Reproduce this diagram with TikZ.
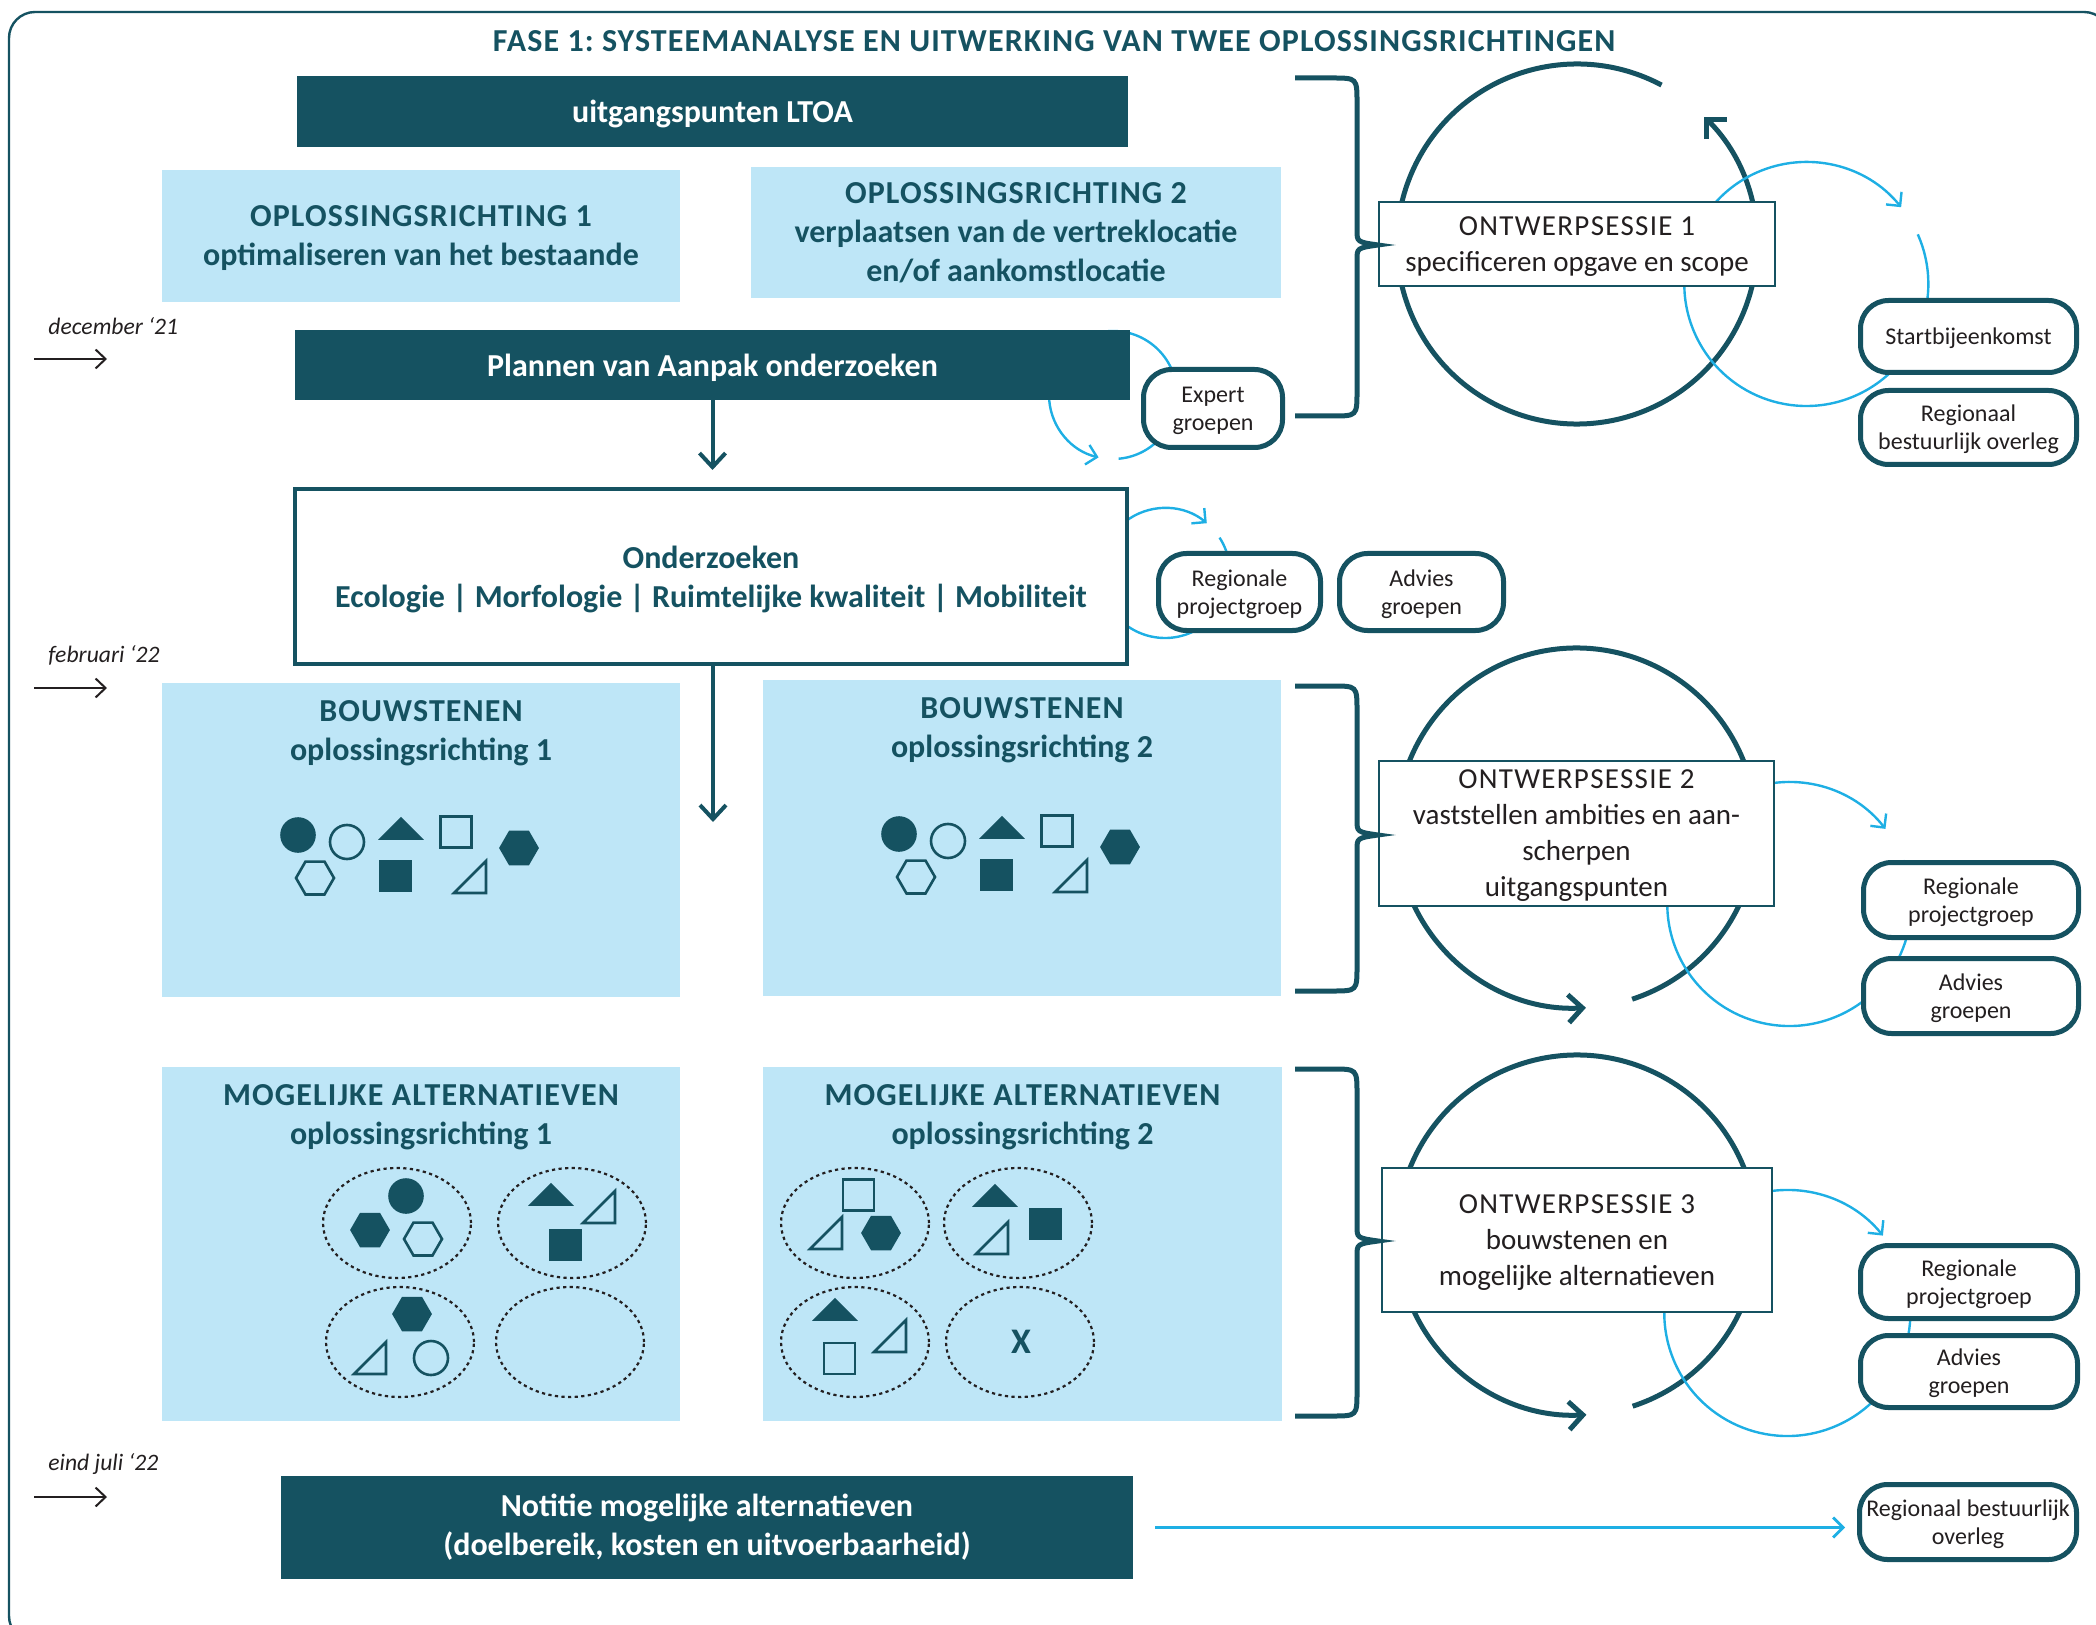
\documentclass[tikz,border=0pt]{standalone}
\usepackage{fontspec}
\setmainfont{Carlito}
\frenchspacing
\usetikzlibrary{positioning,arrows.meta,backgrounds}
\definecolor{petrol}{HTML}{155261}
\definecolor{ice}{HTML}{BEE6F7}
\definecolor{sky}{HTML}{1EAFE4}
\definecolor{ink}{HTML}{231F20}
\newcommand\titlefont{\fontsize{16}{20}\selectfont\bfseries}
\newcommand\headfont{\fontsize{16}{19.5}\selectfont\bfseries}
\newcommand\sessfont{\fontsize{14.5}{18}\selectfont}
\newcommand\grpfont{\fontsize{12}{14}\selectfont}
\newcommand\datefont{\fontsize{11.8}{14}\selectfont\itshape}
\newcommand\caps[2][3.5]{{\addfontfeature{LetterSpace=#1}#2}}
\begin{document}
\begin{tikzpicture}[x=0.5pt, y=-0.5pt,
frame/.style={draw=petrol, line width=1.2pt, rounded corners=13pt},
darkbar/.style={fill=petrol, text=white, font=\headfont, align=center, inner sep=0pt, text depth=-3.5pt},
lightbox/.style={fill=ice, text=petrol, font=\headfont, align=center, inner sep=0pt, text depth=-4.5pt},
head/.style={text=petrol, font=\headfont, align=center, inner sep=0pt},
studybox/.style={draw=petrol, line width=2pt, fill=white, text=petrol, font=\headfont, align=center, inner sep=0pt, text depth=-2.5pt},
session/.style={draw=petrol, line width=1.3pt, fill=white, text=ink, font=\sessfont, align=center, inner sep=0pt, text depth=-4.5pt},
group/.style={draw=petrol, line width=2.5pt, fill=white, rounded corners=14pt, text=ink, font=\grpfont, align=center, inner sep=0pt, text depth=-4pt},
date/.style={text=ink, font=\datefont, inner sep=0pt, anchor=west},
timeline/.style={draw=ink, line width=1pt, -{Straight Barb[length=5pt,width=9.5pt]}},
flow/.style={draw=petrol, line width=2pt, -{Straight Barb[length=7pt,width=13pt]}},
darkcycle/.style={draw=petrol, line width=2.5pt, -{Straight Barb[length=7pt,width=14pt]}},
bluecycle/.style={draw=sky, line width=1.2pt, -{Straight Barb[length=5pt,width=10pt]}},
bluearrow/.style={draw=sky, line width=1.4pt, -{Straight Barb[length=5pt,width=10pt]}, shorten <=11pt, shorten >=6pt},
brace/.style={draw=petrol, line width=2.5pt},
slot/.style={draw=ink, line width=1.1pt, dash pattern=on 1.6pt off 1.7pt},
shapefill/.style={fill=petrol, draw=petrol, line width=0.8pt},
shapeline/.style={draw=petrol, line width=1.3pt},
pics/blob/.style={code={\path[#1] (0,0) circle[radius=8.5pt];}},
pics/hexa/.style={code={\path[#1] (0:9.5pt) \foreach \a in {60,120,...,300}{ -- (\a:9.5pt)} -- cycle;}},
pics/peak/.style={code={\path[#1] (-10.5pt,0pt) -- (10.5pt,0pt) -- (0pt,10.5pt) -- cycle;}},
pics/tile/.style={code={\path[#1] (-7.75pt,-7.75pt) rectangle (7.75pt,7.75pt);}},
pics/wedge/.style={code={\path[#1] (0pt,0pt) -- (16pt,0pt) -- (16pt,16pt) -- cycle;}}
]
\useasboundingbox (0,0) rectangle (2096,1625);
\draw[frame] (9,12) rectangle (2110,1642);

\node[head, font=\titlefont] (title) at (1054,41) {\caps{FASE 1: SYSTEEMANALYSE EN UITWERKING VAN TWEE OPLOSSINGSRICHTINGEN}};
\node[darkbar, minimum width=415.5pt, minimum height=35.5pt] (ltoa) at (712.5,111.5) {uitgangspunten LTOA};
\node[lightbox, minimum width=259pt, minimum height=66pt] (or1) at (421,236) {\caps{OPLOSSINGSRICHTING 1}\\optimaliseren van het bestaande};
\node[lightbox, minimum width=265pt, minimum height=65.5pt] (or2) at (1016,232.5) {\caps{OPLOSSINGSRICHTING 2}\\verplaatsen van de vertreklocatie\\en/of aankomstlocatie};
\node[darkbar, minimum width=417.5pt, minimum height=35pt] (plannen) at (712.5,365) {Plannen van Aanpak onderzoeken};
\node[studybox, minimum width=416pt, minimum height=87.5pt] (onderzoek) at (711,576.5) {Onderzoeken\\Ecologie | Morfologie | Ruimtelijke kwaliteit | Mobiliteit};
\node[lightbox, minimum width=259pt, minimum height=157pt] (bouw1) at (421,840) {};
\node[lightbox, minimum width=259pt, minimum height=158pt] (bouw2) at (1022,838) {};
\node[lightbox, minimum width=259pt, minimum height=177pt] (mog1) at (421,1244) {};
\node[lightbox, minimum width=259.5pt, minimum height=177pt] (mog2) at (1022.5,1244) {};
\node[head, below=9pt of bouw1.north] (bouw1t) {\caps{BOUWSTENEN}\\oplossingsrichting 1};
\node[head, below=9pt of bouw2.north] (bouw2t) {\caps{BOUWSTENEN}\\oplossingsrichting 2};
\node[head, below=9pt of mog1.north] (mog1t) {\caps{MOGELIJKE ALTERNATIEVEN}\\oplossingsrichting 1};
\node[head, below=9pt of mog2.north] (mog2t) {\caps{MOGELIJKE ALTERNATIEVEN}\\oplossingsrichting 2};
\node[darkbar, text depth=3pt, minimum width=426pt, minimum height=51.5pt] (notitie) at (707,1527.5) {Notitie mogelijke alternatieven\\(doelbereik, kosten en uitvoerbaarheid)};

\node[session, minimum width=198pt, minimum height=42pt] (s1) at (1577,244) {\caps[4.5]{ONTWERPSESSIE 1}\\specificeren opgave en scope};
\node[session, minimum width=197.5pt, minimum height=72.5pt] (s2) at (1576.5,833.5) {\caps[4.5]{ONTWERPSESSIE 2}\\vaststellen ambities en aan-\\scherpen\\uitgangspunten};
\node[session, minimum width=195pt, minimum height=72pt] (s3) at (1577,1240) {\caps[4.5]{ONTWERPSESSIE 3}\\bouwstenen en\\mogelijke alternatieven};

\node[group, minimum width=69.5pt, minimum height=39pt] (expert) at (1213,408.5) {Expert\\groepen};
\node[group, minimum width=81pt, minimum height=38.5pt] (rpgA) at (1239.5,592) {Regionale\\projectgroep};
\node[group, minimum width=82pt, minimum height=38.5pt] (advA) at (1421.5,592) {Advies\\groepen};
\node[group, minimum width=108pt, minimum height=36pt] (start) at (1968.5,336.5) {Startbijeenkomst};
\node[group, minimum width=108pt, minimum height=37pt] (rboA) at (1968.5,427.5) {Regionaal\\bestuurlijk overleg};
\node[group, minimum width=107.5pt, minimum height=37.5pt] (rpgB) at (1971,900) {Regionale\\projectgroep};
\node[group, minimum width=107.5pt, minimum height=37.5pt] (advB) at (1971,996) {Advies\\groepen};
\node[group, minimum width=108.5pt, minimum height=36.5pt] (rpgC) at (1969,1282) {Regionale\\projectgroep};
\node[group, minimum width=108.5pt, minimum height=36pt] (advC) at (1969,1371.5) {Advies\\groepen};
\node[group, minimum width=108.5pt, minimum height=37.5pt] (rboB) at (1968,1522) {Regionaal bestuurlijk\\overleg};

\foreach \d/\y/\txt in {dec/326/december ‘21, feb/655/februari ‘22, jul/1464/eind juli ‘22}
{\node[date] (\d) at (48,\y) {\txt};
 \draw[timeline] ([shift={(-14,33)}]\d.west) -- ++(73,0);}

\coordinate (bouwmid) at (713,822);
\draw[flow, shorten >=8.5pt] (plannen.south) -- (plannen.south |- onderzoek.north);
\draw[flow] (bouwmid |- onderzoek.south) -- (bouwmid);
\draw[bluearrow] (notitie.east) -- (notitie.east -| rboB.west);

\foreach \t/\m/\b in {78/245/416, 686/835/991, 1069/1241/1416}
  \draw[brace] (1295,\t) -- (1332,\t) .. controls (1357,\t) .. (1357,\t+25) -- (1357,\m-15) .. controls (1357,\m-3) .. (1378,\m) .. controls (1357,\m+3) .. (1357,\m+15) -- (1357,\b-25) .. controls (1357,\b) .. (1332,\b) -- (1295,\b);

\foreach \bx/\by in {162/683, 763/682}
  \foreach \kind/\sty/\px/\py in {blob/shapefill/136/152, blob/shapeline/185/159, peak/shapefill/239/156, tile/shapeline/294/149, hexa/shapefill/357/165, hexa/shapeline/153/195, tile/shapefill/233.5/193, wedge/shapeline/292/210}
    \pic at (\bx+\px,\by+\py) {\kind=\sty};

\foreach \ex/\ey in {397/1223, 572/1223, 400/1342, 570/1342, 855/1223, 1018/1223, 855/1342, 1020/1342}
  \draw[slot] (\ex,\ey) ellipse[x radius=37pt, y radius=27.5pt];
\foreach \kind/\sty/\px/\py in {blob/shapefill/406/1196, hexa/shapefill/370/1230, hexa/shapeline/423/1239, peak/shapefill/551/1205, wedge/shapeline/583/1223, tile/shapefill/565.5/1245, hexa/shapefill/412/1314, wedge/shapeline/354/1374, blob/shapeline/431/1358, tile/shapeline/858.5/1195, wedge/shapeline/810/1249, hexa/shapefill/881/1233, peak/shapefill/995/1206, wedge/shapeline/976/1254, tile/shapefill/1045.5/1224, peak/shapefill/835/1320, tile/shapeline/839.5/1358.5, wedge/shapeline/874/1352}
  \pic at (\px,\py) {\kind=\sty};
\node[head, font=\fontsize{18}{20}\selectfont\bfseries] (nox) at (1021,1342) {X};

\begin{scope}[on background layer]
\draw[darkcycle] (s1.center) ++(62:90pt) arc[start angle=62, end angle=405, radius=90pt];
\draw[darkcycle] ([yshift=2.75pt]s2.center) ++(-72:90pt) arc[start angle=-72, end angle=273, radius=90pt];
\draw[darkcycle] ([yshift=2.5pt]s3.center) ++(-72:90pt) arc[start angle=-72, end angle=273, radius=90pt];
\draw[bluecycle] ([shift={(-28,-13.5)}]expert.west) ++(-85:32pt) arc[start angle=-85, end angle=257, radius=32pt];
\draw[bluecycle] ([shift={(9,-19)}]rpgA.west) ++(33:32.5pt) arc[start angle=33, end angle=-310, radius=32.5pt];
\draw[bluecycle] ([shift={(30,40)}]s1.east) ++(24:61pt) arc[start angle=24, end angle=-321, radius=61pt];
\draw[bluecycle] ([shift={(14,70.5)}]s2.east) ++(21:61pt) arc[start angle=21, end angle=-322, radius=61pt];
\draw[bluecycle] ([shift={(14,73)}]s3.east) ++(21:61.5pt) arc[start angle=21, end angle=-321, radius=61.5pt];
\end{scope}
\end{tikzpicture}
\end{document}
